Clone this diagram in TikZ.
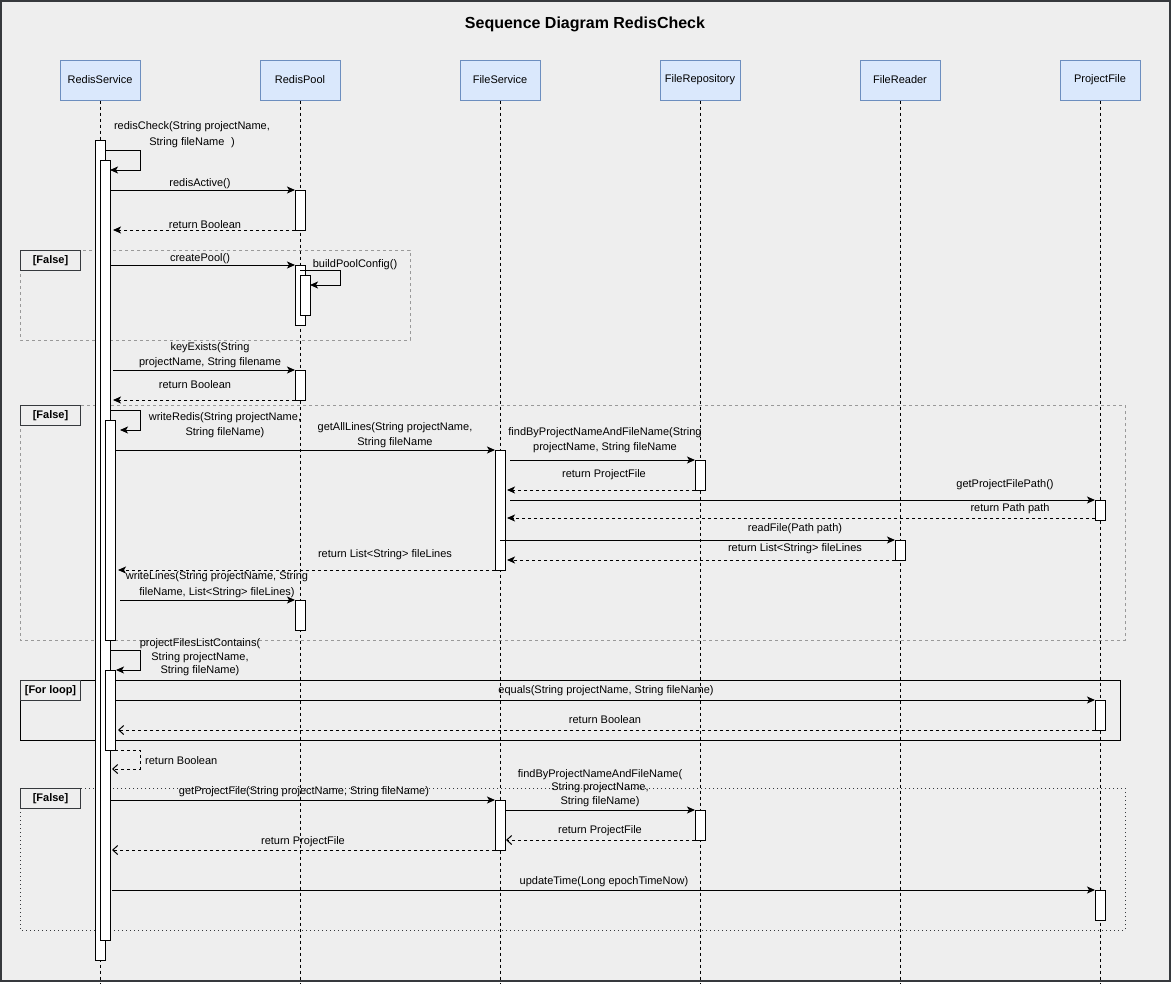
\documentclass[tikz,border=0pt]{standalone}
\usepackage{fontspec}
\setmainfont{Liberation Sans}
\usetikzlibrary{arrows.meta,calc}
\definecolor{bgc}{HTML}{EEEEEE}
\definecolor{bordc}{HTML}{36393D}
\definecolor{pfill}{HTML}{DAE8FC}
\definecolor{pdraw}{HTML}{6C8EBF}
\definecolor{framegray}{HTML}{999999}
\begin{document}
\begin{tikzpicture}[x=1pt,y=-1pt,
  every node/.style={font=\fontsize{11}{13}\selectfont, text=black},
  part/.style={draw=pdraw, fill=pfill, minimum width=80pt, minimum height=40pt, inner sep=0pt, line width=1pt},
  life/.style={draw=black, line width=1pt, dash pattern=on 3pt off 3pt},
  act/.style={draw=black, fill=white, line width=1pt, minimum width=10pt, minimum height=#1, inner sep=0pt, outer sep=0pt, anchor=north west},
  call/.style={draw=black, line width=1pt, -{Stealth[length=8pt,width=7pt,inset=2pt]}},
  retA/.style={draw=black, line width=1pt, dash pattern=on 3pt off 3pt, -{Stealth[length=8pt,width=7pt,inset=2pt]}},
  retB/.style={draw=black, line width=1pt, dash pattern=on 3pt off 3pt, -{Straight Barb[length=5pt,width=9pt]}},
  lbl/.style={inner sep=0pt, align=center},
  fdash/.style={draw=framegray, line width=1pt, dash pattern=on 3pt off 3pt},
  floop/.style={draw=black, line width=1pt},
  fdot/.style={draw=bordc, line width=1pt, dash pattern=on 1pt off 3pt},
  tag/.style={draw=bordc, line width=1pt, minimum width=60pt, minimum height=20pt, inner sep=0pt, anchor=north west, font=\bfseries\fontsize{11}{13}\selectfont}
]
\useasboundingbox (0,0) rectangle (1172,983);
\fill[white] (0,0) rectangle (1172,983);
\draw[bordc, fill=bgc, line width=2pt] (1,1) rectangle (1170,981);
\node[font=\bfseries\fontsize{16}{19}\selectfont] (title) at (585,24) {Sequence Diagram RedisCheck};

% participants
\node[part] (rs) at (100,80) {RedisService};
\node[part] (rp) at (300,80) {RedisPool};
\node[part] (fs) at (500,80) {FileService};
\node[part] (fr) at (700,80) {FileRepository};
\node[part] (fd) at (900,80) {FileReader};
\node[part] (pf) at (1100,80) {ProjectFile};
\coordinate (bot) at (0,983);
\foreach \n in {rs,rp,fs,fr,fd,pf} \draw[life] (\n.south) -- (\n.south |- bot);

% frames
\draw[fdash] (20,250) rectangle (410,340);
\node[tag] (t1) at (20,250) {[False]};
\draw[fdash] (20,405) rectangle (1125,640);
\node[tag] (t2) at (20,405) {[False]};
\draw[floop] (20,680) rectangle (1120,740);
\node[tag] (t3) at (20,680) {[For loop]};
\draw[fdot] (20,788) rectangle (1125,930);
\node[tag] (t4) at (20,788) {[False]};

% activations
\node[act=820pt] (a1) at (95,140) {};
\node[act=780pt] (a2) at (100,160) {};
\node[act=220pt] (a3) at (105,420) {};
\node[act=80pt] (a4) at (105,670) {};
\node[act=40pt] (p1) at (295,190) {};
\node[act=60pt] (p2) at (295,265) {};
\node[act=40pt] (p3) at (300,275) {};
\node[act=30pt] (p4) at (295,370) {};
\node[act=30pt] (p5) at (295,600) {};
\node[act=120pt] (f1) at (495,450) {};
\node[act=50pt] (f2) at (495,800) {};
\node[act=30pt] (r1) at (695,460) {};
\node[act=30pt] (r2) at (695,810) {};
\node[act=20pt] (d1) at (895,540) {};
\node[act=20pt] (j1) at (1095,500) {};
\node[act=30pt] (j2) at (1095,700) {};
\node[act=30pt] (j3) at (1095,890) {};

% messages
\draw[call] ($(a1.north east)+(0,10)$) -- ++(35,0) -- ++(0,20) -- ($(a2.north east)+(0,10)$);
\node[lbl] (m1) at (192,135) {redisCheck(String projectName,\\[3pt]String fileName\hspace{0.6em})};

\draw[call] (a2.east|-p1.north) -- (p1.north west);
\node[lbl] (m2) at (200,184) {redisActive()};
\draw[retA] (p1.south west) -- ($(a2.east|-p1.south)+(3,0)$);
\node[lbl] (m3) at (205,225) {return Boolean};

\draw[call] (a2.east|-p2.north) -- (p2.north west);
\node[lbl] (m4) at (200,259) {createPool()};
\draw[call] ($(p2.north)+(0,5)$) -- ++(40,0) -- ++(0,15) -- ($(p3.north east)+(0,10)$);
\node[lbl] (m5) at (355,265) {buildPoolConfig()};

\draw[call] ($(a2.east|-p4.north)+(3,0)$) -- (p4.north west);
\node[lbl] (m6) at (210,355.5) {keyExists(String\\[2pt]projectName, String filename};
\draw[retA] (p4.south west) -- ($(a2.east|-p4.south)+(3,0)$);
\node[lbl] (m7) at (195,385) {return Boolean};

\draw[call] ($(a2.east|-a3.north)+(0,-10)$) -- ++(30,0) -- ++(0,20) -- ($(a3.north east)+(5,10)$);
\node[lbl] (m8) at (225,425.5) {writeRedis(String projectName,\\[2pt]String fileName)};

\draw[call] (a3.east|-f1.north) -- (f1.north west);
\node[lbl] (m9) at (395,435.5) {getAllLines(String projectName,\\[2pt]String fileName};
\draw[call] ($(f1.east|-r1.north)+(5,0)$) -- (r1.north west);
\node[lbl] (m10) at (605,440.5) {findByProjectNameAndFileName(String\\[2pt]projectName, String fileName};
\draw[retA] (r1.south west) -- ($(f1.east|-r1.south)+(2,0)$);
\node[lbl] (m11) at (604,475) {return ProjectFile};
\draw[call] ($(f1.east|-j1.north)+(5,0)$) -- (j1.north west);
\node[lbl] (m12) at (1005,485) {getProjectFilePath()};
\draw[retA] ($(j1.south west)+(0,-2)$) -- ($(f1.east|-j1.south)+(2,-2)$);
\node[lbl] (m13) at (1010,509) {return Path path};
\draw[call] (f1.north|-d1.north) -- (d1.north west);
\node[lbl] (m14) at (795,529) {readFile(Path path)};
\draw[retA] (d1.south west) -- ($(f1.east|-d1.south)+(2,0)$);
\node[lbl] (m15) at (795,549) {return List<String> fileLines};
\draw[retA] (f1.south west) -- ($(a3.east|-f1.south)+(3,0)$);
\node[lbl] (m16) at (385,555) {return List<String> fileLines};
\draw[call] ($(a3.east|-p5.north)+(5,0)$) -- (p5.north west);
\node[lbl] (m17) at (217,585) {writeLines(String projectName, String\\[3pt]fileName, List<String> fileLines)};

\draw[call] ($(a2.east|-a4.north)+(0,-20)$) -- ++(30,0) -- ++(0,20) -- ($(a4.north east)+(1,0)$);
\node[lbl, font=\fontsize{11}{13.5}\selectfont] (m18) at (200,657.5) {projectFilesListContains(\\String projectName,\\String fileName)};

\draw[call] ($(a4.east|-j2.north)+(1,0)$) -- (j2.north west);
\node[lbl] (m19) at (606,691) {equals(String projectName, String fileName)};
\draw[retB] (j2.south west) -- ($(a4.east|-j2.south)+(3,0)$);
\node[lbl] (m20) at (605,720) {return Boolean};
\draw[retB] (a4.south east) -- ++(25,0) -- ++(0,19) -- ($(a2.east|-a4.south)+(2,19)$);
\node[lbl, anchor=west] (m21) at (145,761) {return Boolean};

\draw[call] (a2.east|-f2.north) -- (f2.north west);
\node[lbl] (m22) at (304,792) {getProjectFile(String projectName, String fileName)};
\draw[call] (f2.east|-r2.north) -- (r2.north west);
\node[lbl, font=\fontsize{11}{13.5}\selectfont] (m23) at (600,788) {findByProjectNameAndFileName(\\String projectName,\\String fileName)};
\draw[retB] (r2.south west) -- ($(f2.east|-r2.south)+(1,0)$);
\node[lbl] (m24) at (600,831) {return ProjectFile};
\draw[retB] (f2.south west) -- ($(a2.east|-f2.south)+(2,0)$);
\node[lbl] (m25) at (303,842) {return ProjectFile};
\draw[call] ($(a2.east|-j3.north)+(2,0)$) -- (j3.north west);
\node[lbl] (m26) at (604,882) {updateTime(Long epochTimeNow)};
\end{tikzpicture}
\end{document}
